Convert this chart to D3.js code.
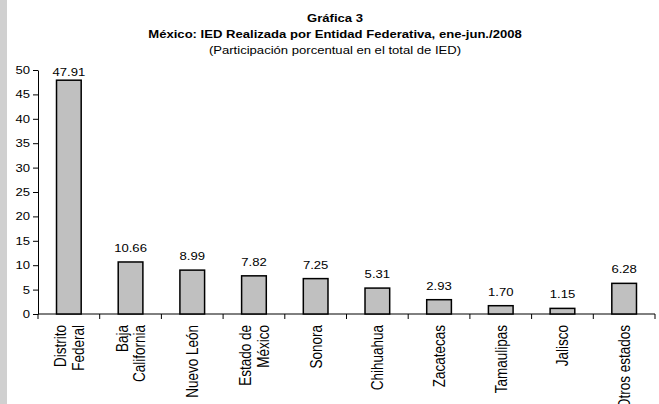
<!DOCTYPE html>
<html>
<head>
<meta charset="utf-8">
<script src="https://cdn.jsdelivr.net/npm/d3@7"></script>
<style>
  body { margin: 0; background: #fff; }
  svg { display: block; font-family: Arial, "Liberation Sans", sans-serif; }
</style>
</head>
<body>
<svg id="chart" width="659" height="404"></svg>
<script>
// datos
var estados = ["Distrito|Federal", "Baja|California", "Nuevo León", "Estado de|México", "Sonora",
               "Chihuahua", "Zacatecas", "Tamaulipas", "Jalisco", "Otros estados"];
var participacion = [47.91, 10.66, 8.99, 7.82, 7.25, 5.31, 2.93, 1.70, 1.15, 6.28];
var y_ticks = [0, 5, 10, 15, 20, 25, 30, 35, 40, 45, 50];
var titulos = ["Gráfica 3", "México: IED Realizada por Entidad Federativa, ene-jun./2008",
               "(Participación porcentual en el total de IED)"];

var svg = d3.select("#chart"),
    width = 659,
    height = 404,
    m = { left: 38, right: 655, top: 70, bottom: 314 },
    stretch = 1.27; // el original esta estirado a lo ancho

// franja gris a la izquierda
svg.append("rect")
    .attr("x", 0).attr("y", 0)
    .attr("width", 7).attr("height", height)
    .attr("fill", "#d0d0d0");

var x = d3.scaleBand()
    .domain(estados)
    .range([m.left, m.right])
    .paddingInner(0.6)
    .paddingOuter(0.3);

var y = d3.scaleLinear()
    .domain([0, 50])
    .range([m.bottom, m.top]);

function texto(px, py, anchor, size, weight, str) {
    svg.append("g")
        .attr("transform", "translate(" + px + "," + py + ") scale(" + stretch + ",1)")
        .append("text")
        .attr("text-anchor", anchor)
        .attr("font-size", size + "px")
        .attr("font-weight", weight)
        .text(str);
}

// titulo
titulos.forEach(function(t, i) {
    texto(335, 22 + i * 16, "middle", 10.3, i < 2 ? "bold" : "normal", t);
});

// eje y
var yAxis = svg.append("g")
    .attr("transform", "translate(" + m.left + ",0)")
    .call(d3.axisLeft(y).tickValues(y_ticks).tickSize(5).tickSizeOuter(0));
yAxis.selectAll("text").remove();
yAxis.selectAll("line, path").attr("stroke", "#000");
y_ticks.forEach(function(t) {
    texto(30, y(t) + 4, "end", 10.3, "normal", t);
});

// eje x con marcas entre categorias
svg.append("line")
    .attr("x1", m.left).attr("x2", m.right)
    .attr("y1", m.bottom).attr("y2", m.bottom)
    .attr("stroke", "#000");

var bordes = estados.map(function(d) { return x(d) - x.step() * x.paddingOuter(); });
bordes.push(m.right);
svg.selectAll("line.marca")
    .data(bordes)
    .enter().append("line")
    .attr("class", "marca")
    .attr("x1", function(d) { return d; })
    .attr("x2", function(d) { return d; })
    .attr("y1", m.bottom)
    .attr("y2", m.bottom + 5)
    .attr("stroke", "#000");

// barras
svg.selectAll("rect.barra")
    .data(participacion)
    .enter().append("rect")
    .attr("class", "barra")
    .attr("x", function(d, i) { return x(estados[i]); })
    .attr("y", function(d) { return y(d); })
    .attr("width", x.bandwidth())
    .attr("height", function(d) { return m.bottom - y(d); })
    .attr("fill", "#c0c0c0")
    .attr("stroke", "#000")
    .attr("stroke-width", 1.5);

// valores
participacion.forEach(function(d, i) {
    texto(x(estados[i]) + x.bandwidth() / 2, Math.max(y(d) - 10, y(50) + 6), "middle", 10.3, "normal", d.toFixed(2));
});

// etiquetas rotadas
var etiquetas = svg.selectAll("g.etiqueta")
    .data(estados)
    .enter().append("g")
    .attr("class", "etiqueta")
    .attr("transform", function(d) {
        return "translate(" + (x(d) + x.bandwidth() / 2) + "," + (m.bottom + 11) + ") scale(1.2,1) rotate(-90)";
    });

etiquetas.each(function(d) {
    var lineas = d.split("|");
    var g = d3.select(this);
    lineas.forEach(function(l, j) {
        g.append("text")
            .attr("x", 0)
            .attr("y", (j - (lineas.length - 1) / 2) * 14.5 + 5)
            .attr("text-anchor", "end")
            .attr("font-size", "13.5px")
            .text(l);
    });
});
</script>
</body>
</html>
